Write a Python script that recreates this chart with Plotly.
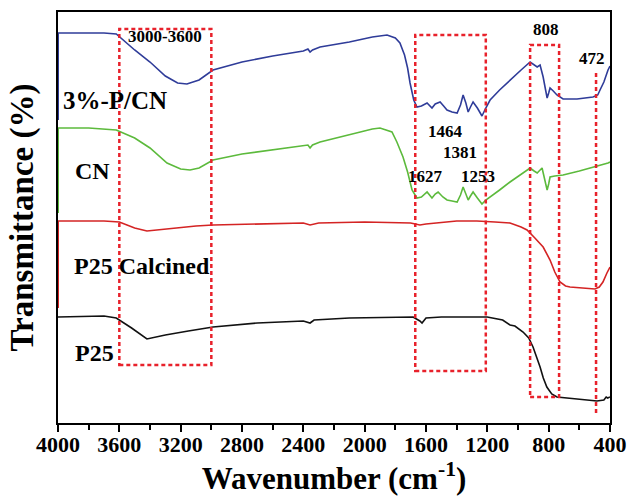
import plotly.graph_objects as go

# ---------------- data ----------------
wn_pcn = [4000, 3800, 3700, 3620, 3500, 3400, 3300, 3220, 3159, 3080, 2989, 2800, 2600, 2400, 2370, 2356, 2340,
          2291, 2100, 1950, 1854, 1800, 1770, 1740, 1720, 1704, 1680, 1659, 1630, 1593, 1561, 1540, 1508, 1485,
          1463, 1430, 1397, 1375, 1358, 1340, 1325, 1310, 1293, 1265, 1235, 1210, 1182, 1120, 1052, 980, 921,
          895, 875, 856, 836, 820, 810, 800, 791, 770, 746, 706, 615, 511, 480, 465, 440, 413, 400]
t_pcn = [390, 390, 390, 389, 373, 361, 347, 340, 339, 343, 353, 361, 367, 372, 374, 371, 373,
         376, 381, 386, 388, 385, 380, 368, 355, 340, 323, 316, 317, 320, 315, 319, 321, 317,
         313, 311, 310, 318, 328, 320, 311, 316, 321, 315, 307, 315, 323, 333, 343, 353, 361,
         358, 356, 358, 346, 333, 325, 330, 335, 332, 328, 324, 324, 326, 328, 333, 341, 353, 357]

wn_cn = [4000, 3800, 3620, 3500, 3400, 3289, 3200, 3139, 3080, 2989, 2800, 2600, 2400, 2370, 2356, 2340, 2291,
         2100, 1950, 1900, 1822, 1790, 1750, 1720, 1691, 1659, 1630, 1593, 1561, 1540, 1521, 1490, 1463, 1430,
         1397, 1375, 1358, 1340, 1325, 1310, 1293, 1265, 1235, 1210, 1182, 1120, 1052, 980, 921, 895, 875, 843,
         823, 810, 800, 791, 760, 706, 600, 500, 413, 400]
t_cn = [295, 295, 293, 285, 275, 260, 254, 253, 255, 263, 269, 273, 277, 278, 275, 278, 281,
        288, 294, 295, 291, 281, 266, 251, 233, 225, 226, 231, 225, 229, 231, 226, 223, 222,
        221, 228, 236, 229, 223, 227, 231, 225, 219, 223, 226, 233, 241, 249, 255, 252, 250, 255,
        243, 233, 239, 246, 247, 248, 252, 256, 260, 261]

wn_p25c = [4000, 3700, 3600, 3500, 3420, 3300, 3100, 2989, 2700, 2400, 2356, 2300, 2000, 1700, 1640, 1600, 1400,
           1268, 1150, 1052, 980, 941, 890, 836, 791, 760, 726, 690, 661, 600, 498, 470, 446, 420, 400]
t_p25c = [202, 202, 201, 195, 192, 194, 197, 198, 199, 200, 198, 200, 201, 200, 198, 199, 202,
          202, 201, 200, 196, 193, 185, 176, 163, 151, 141, 137, 136, 135, 134, 136, 141, 150, 156]

wn_p25 = [4000, 3700, 3620, 3520, 3420, 3300, 3150, 2989, 2700, 2400, 2356, 2330, 2100, 1800, 1684, 1640, 1626,
          1600, 1500, 1201, 1100, 1052, 1020, 967, 930, 902, 880, 856, 835, 812, 780, 746, 615, 485, 440, 425,
          415, 400]
t_p25 = [106, 107, 105, 95, 84, 88, 92, 96, 100, 102, 100, 103, 105, 106, 106, 102, 100,
         105, 106, 106, 103, 98, 97, 91, 85, 76, 67, 56, 45, 36, 29, 26, 24, 22, 23, 26,
         25, 26]

series_names = ["3%-P/CN", "CN", "P25 Calcined", "P25"]
series_colors = ["#2f3c99", "#5cba3c", "#d42424", "#111111"]
edge_low = [303, 210, 115]          # colored segments on the left frame edge

# dashed boxes: (wn_left, wn_right, t_bottom, t_top)
box_x0 = [3600, 1670, 921]
box_x1 = [3000, 1210, 732]
box_y0 = [58, 52, 26]
box_y1 = [394, 388, 378]
vline_x = 491
vline_y = [10, 352]

label_text = ["3%-P/CN", "CN", "P25 Calcined", "P25"]
label_x = [3631, 3772, 3452, 3762]
label_y = [323, 252, 157, 70]

peak_text = ["3000-3600", "1464", "1381", "1627", "1253", "808", "472"]
peak_x = [3302, 1472, 1381, 1603, 1264, 817, 520]
peak_y = [387, 292, 271, 247, 247, 394, 365]

x_ticks = [4000, 3600, 3200, 2800, 2400, 2000, 1600, 1200, 800, 400]
x_minor = [3800, 3400, 3000, 2600, 2200, 1800, 1400, 1000, 600]

# ---------------- figure ----------------
FONT = "Liberation Serif"
fig = go.Figure()
xs = [wn_pcn, wn_cn, wn_p25c, wn_p25]
ts = [t_pcn, t_cn, t_p25c, t_p25]
for name, col, x, y in zip(series_names, series_colors, xs, ts):
    fig.add_trace(go.Scatter(x=x, y=y, mode="lines", name=name,
                             line=dict(color=col, width=1.6), showlegend=False))

shapes = []
for x0, x1, y0, y1 in zip(box_x0, box_x1, box_y0, box_y1):
    shapes.append(dict(type="rect", xref="x", yref="y", x0=x0, x1=x1, y0=y0, y1=y1,
                       line=dict(color="#e8212b", width=2.5, dash="4px,3px"),
                       fillcolor="rgba(0,0,0,0)", layer="above"))
shapes.append(dict(type="line", xref="x", yref="y", x0=vline_x, x1=vline_x, y0=vline_y[0], y1=vline_y[1],
                   line=dict(color="#e8212b", width=2.5, dash="4px,3px"), layer="above"))
for i in range(3):
    shapes.append(dict(type="line", xref="x", yref="y", x0=4000, x1=4000, y0=edge_low[i], y1=ts[i][0],
                       line=dict(color=series_colors[i], width=2), layer="above"))

annotations = []
for t, x, y in zip(label_text, label_x, label_y):
    annotations.append(dict(text=t, x=x, y=y, xref="x", yref="y", showarrow=False,
                            xanchor="center", yanchor="middle",
                            font=dict(family=FONT, size=25 if t == "3%-P/CN" else 24, color="black", weight="bold")))
for t, x, y in zip(peak_text, peak_x, peak_y):
    annotations.append(dict(text=t, x=x, y=y, xref="x", yref="y", showarrow=False,
                            xanchor="center", yanchor="middle",
                            font=dict(family=FONT, size=17, color="black", weight="bold")))

fig.update_layout(
    width=631, height=500,
    margin=dict(l=58, r=21, t=12, b=77),
    paper_bgcolor="white", plot_bgcolor="white",
    shapes=shapes, annotations=annotations,
    font=dict(family=FONT, color="black"),
)
fig.update_xaxes(
    range=[4000, 400], tickvals=x_ticks, ticktext=[str(v) for v in x_ticks],
    showgrid=False, zeroline=False, automargin=False,
    showline=True, linecolor="black", linewidth=2, mirror=True,
    ticks="outside", ticklen=7, tickwidth=1.5, tickcolor="black",
    ticklabelstandoff=-6,
    minor=dict(ticks="outside", tickvals=x_minor, ticklen=5, tickwidth=1.5, tickcolor="black"),
    tickfont=dict(family=FONT, size=22, color="black", weight="bold"),
    title=dict(text="Wavenumber (cm<sup>-1</sup>)", standoff=11,
               font=dict(family=FONT, size=31, color="black", weight="bold")),
)
fig.update_yaxes(
    range=[0, 411], showticklabels=False, ticks="", showgrid=False, zeroline=False, automargin=False,
    showline=True, linecolor="black", linewidth=2, mirror=True,
    title=dict(text="Transmittance (%)", standoff=12,
               font=dict(family=FONT, size=33, color="black", weight="bold")),
)

fig.write_html("out.html")
